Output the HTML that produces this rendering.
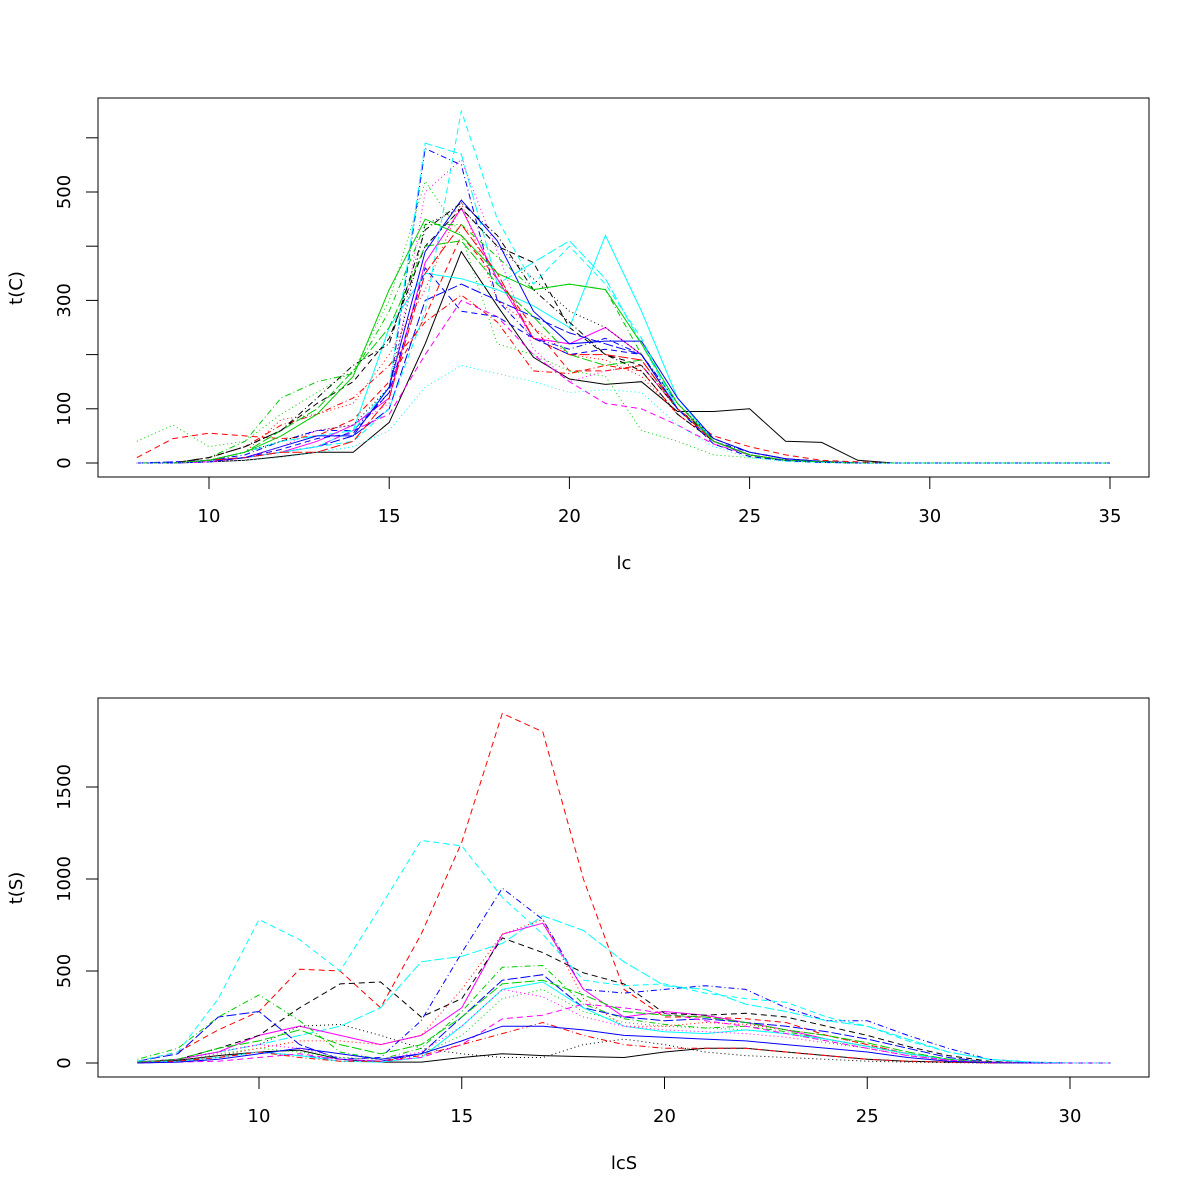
<!DOCTYPE html>
<html><head><meta charset="utf-8"><style>
body{margin:0;background:#fff;}
svg{display:block;font-family:"DejaVu Sans","Liberation Sans",sans-serif;}
</style></head><body>
<svg id="chart" width="1200" height="1200" viewBox="0 0 1200 1200"></svg>
<script>
// ---- Top panel data: x = 8..35 (values given for 8..29, rest zeros) ----
const topX = [8,9,10,11,12,13,14,15,16,17,18,19,20,21,22,23,24,25,26,27,28,29,30,31,32,33,34,35];
const topXTicks = [10,15,20,25,30,35];
const topYTicks = [0,100,200,300,400,500,600];
const topYLabels = ["0","100","","300","","500",""];
const topS1 = [0,0,2,5,12,20,20,75,220,390,290,195,155,145,150,95,95,100,40,38,5,0];
const topS2 = [10,45,55,50,45,50,80,150,270,420,340,250,170,170,180,100,50,30,15,5,2,0];
const topS3 = [40,70,30,40,90,130,170,300,520,420,220,200,170,160,60,40,15,10,5,2,0,0];
const topS4 = [0,0,5,15,40,60,60,130,580,550,300,230,210,230,200,110,40,20,8,3,0,0];
const topS5 = [0,0,5,20,40,50,60,140,590,570,330,370,410,340,220,100,40,15,5,2,0,0];
const topS6 = [0,0,2,10,20,40,70,120,370,470,340,230,220,250,200,100,40,15,5,2,0,0];
const topS7 = [0,0,10,30,60,110,150,230,400,470,400,370,250,200,180,100,45,20,8,3,0,0];
const topS8 = [0,0,5,20,80,90,110,200,320,480,300,250,200,190,160,90,40,15,5,2,0,0];
const topS9 = [0,0,10,40,120,150,165,280,440,440,380,320,330,320,200,100,40,15,5,2,0,0];
const topS10 = [0,2,5,10,20,30,50,100,300,330,300,270,240,220,200,100,40,15,5,2,0,0];
const topS11 = [0,0,5,10,20,30,60,250,350,340,320,290,250,420,280,120,40,15,5,2,0,0];
const topS12 = [0,0,5,10,20,30,60,90,200,300,270,200,150,110,100,70,35,15,5,2,0,0];
const topS13 = [0,0,5,20,40,60,70,140,440,470,400,340,280,250,200,110,45,20,8,3,0,0];
const topS14 = [0,0,10,30,70,90,120,180,260,310,260,170,165,180,170,90,40,15,5,2,0,0];
const topS15 = [0,0,5,20,60,100,170,250,400,410,330,270,200,180,190,100,40,15,5,2,0,0];
const topS16 = [0,0,5,10,30,50,50,140,390,485,410,280,220,225,225,120,45,20,8,3,0,0];
const topS17 = [0,0,5,10,20,30,40,100,280,650,450,330,400,330,230,100,40,15,5,2,0,0];
const topS18 = [0,0,2,10,30,60,70,110,500,560,390,210,150,170,180,100,40,15,5,2,0,0];
const topS19 = [0,0,10,30,60,120,180,220,430,480,420,320,260,200,170,90,40,15,5,2,0,0];
const topS20 = [0,0,5,10,20,20,40,120,350,440,350,230,200,200,190,100,40,15,5,2,0,0];
const topS21 = [0,0,5,20,50,90,160,320,450,420,350,320,330,320,220,110,40,15,5,2,0,0];
const topS22 = [0,0,2,10,25,45,55,130,360,280,270,230,200,210,200,100,35,12,4,1,0,0];
const topS23 = [0,0,2,5,10,20,30,60,140,180,165,150,130,135,130,70,30,10,3,1,0,0];
const topSeries = [topS1,topS2,topS3,topS4,topS5,topS6,topS7,topS8,topS9,topS10,topS11,topS12,topS13,topS14,topS15,topS16,topS17,topS18,topS19,topS20,topS21,topS22,topS23];

// ---- Bottom panel data: x = 7..31 ----
const botX = [7,8,9,10,11,12,13,14,15,16,17,18,19,20,21,22,23,24,25,26,27,28,29,30,31];
const botXTicks = [10,15,20,25,30];
const botYTicks = [0,500,1000,1500];
const botYLabels = ["0","500","1000","1500"];
const botS1 = [5,15,40,60,70,20,5,5,30,50,40,35,30,60,80,80,60,40,20,10,5,2,0,0,0];
const botS2 = [10,60,180,280,510,500,300,700,1200,1900,1800,1000,400,250,250,240,220,150,100,50,20,5,0,0,0];
const botS3 = [5,10,50,80,60,30,20,50,150,350,400,280,220,200,190,180,160,120,80,40,15,5,0,0,0];
const botS4 = [5,10,30,60,40,20,30,230,600,950,780,400,380,400,420,400,300,230,230,150,80,20,5,0,0];
const botS5 = [5,20,60,100,150,200,300,550,580,650,800,720,550,420,400,320,280,230,200,130,60,20,5,0,0];
const botS6 = [5,20,60,150,200,150,100,150,300,700,760,400,250,280,260,220,180,130,90,50,20,5,0,0,0];
const botS7 = [5,20,80,150,300,430,440,250,350,680,600,490,430,270,260,270,250,200,150,90,40,10,0,0,0];
const botS8 = [5,10,40,80,120,120,100,150,400,700,780,350,200,200,220,210,180,150,100,50,20,5,0,0,0];
const botS9 = [20,80,250,370,230,60,20,80,280,520,530,320,240,210,190,200,170,130,90,50,20,5,0,0,0];
const botS10 = [10,50,250,280,100,20,10,50,250,450,480,300,250,230,240,220,200,170,130,80,30,5,0,0,0];
const botS11 = [5,10,30,60,40,10,5,30,200,400,440,300,200,170,160,180,160,130,90,50,20,5,0,0,0];
const botS12 = [0,5,10,30,50,20,10,30,100,240,260,320,300,270,230,200,160,120,80,40,15,5,0,0,0];
const botS13 = [5,20,60,100,200,210,150,80,50,30,30,100,130,100,60,40,30,20,10,5,2,0,0,0,0];
const botS14 = [5,10,30,60,30,10,10,40,100,160,220,150,100,80,80,80,60,40,20,10,5,0,0,0,0];
const botS15 = [5,20,80,120,180,100,50,100,250,430,450,370,280,260,250,220,180,150,110,60,20,5,0,0,0];
const botS16 = [0,5,20,50,80,50,20,50,120,200,200,180,150,140,130,120,100,80,60,30,10,2,0,0,0];
const botS17 = [10,60,350,780,670,500,850,1210,1180,900,700,450,420,430,380,350,330,250,200,120,60,20,5,0,0];
const botS18 = [5,20,60,100,80,30,20,60,200,400,360,250,200,180,170,160,140,110,80,40,15,5,0,0,0];
const botSeries = [botS1,botS2,botS3,botS4,botS5,botS6,botS7,botS8,botS9,botS10,botS11,botS12,botS13,botS14,botS15,botS16,botS17,botS18];

const colors = ["#000000","#FF0000","#00CD00","#0000FF","#00FFFF","#FF00FF"];
const dashes = ["none","6,4","1,3","1,3,6,3","10,3"];
const NS = "http://www.w3.org/2000/svg";
const svg = document.getElementById("chart");

function el(tag, attrs, parent){
  const e = document.createElementNS(NS, tag);
  for (const k in attrs) e.setAttribute(k, attrs[k]);
  (parent||svg).appendChild(e);
  return e;
}

function panel(cfg){
  const g = el("g", {});
  
  
  const sx = v => cfg.x0px + (v - cfg.x0v) * cfg.xs;
  const sy = v => cfg.y0px - v * cfg.ys;
  const box = el("rect", {x:98, y:cfg.top, width:1051, height:379, fill:"none", stroke:"#000", "stroke-width":1}, g);
  
  
  cfg.series.forEach((s, i) => {
    const pts = cfg.xs_vals.map((x, j) => sx(x).toFixed(1) + "," + sy(j < s.length ? s[j] : 0).toFixed(1)).join(" ");
    const pl = el("polyline", {points:pts, fill:"none", stroke:colors[i%6], "stroke-width":1, "stroke-dasharray":dashes[i%5]}, g);
    
    
  });
  const xa = el("g", {}, g);
  
  
  const xb = cfg.top + 379;
  el("line", {x1:sx(cfg.xTicks[0]), x2:sx(cfg.xTicks[cfg.xTicks.length-1]), y1:xb, y2:xb, stroke:"#000"}, xa);
  cfg.xTicks.forEach(t => {
    el("line", {x1:sx(t), x2:sx(t), y1:xb, y2:xb+12, stroke:"#000"}, xa);
    const tx = el("text", {x:sx(t), y:xb+45, "font-size":18, "text-anchor":"middle"}, xa);
    tx.textContent = t;
    
    
  });
  const ya = el("g", {}, g);
  
  
  el("line", {x1:98, x2:98, y1:sy(cfg.yTicks[0]), y2:sy(cfg.yTicks[cfg.yTicks.length-1]), stroke:"#000"}, ya);
  cfg.yTicks.forEach((t, k) => {
    el("line", {x1:86, x2:98, y1:sy(t), y2:sy(t), stroke:"#000"}, ya);
    if (cfg.yLabels[k]) {
      const tx = el("text", {x:0, y:0, "font-size":18, "text-anchor":"middle", transform:"translate(70," + sy(t) + ") rotate(-90)"}, ya);
      tx.textContent = cfg.yLabels[k];
      
      
    }
  });
  const xt = el("text", {x:624, y:xb+92, "font-size":18, "text-anchor":"middle"}, g);
  xt.textContent = cfg.xTitle;
  
  
  const yt = el("text", {x:0, y:0, "font-size":18, "text-anchor":"middle", transform:"translate(22," + (cfg.top+190) + ") rotate(-90)"}, g);
  yt.textContent = cfg.yTitle;
  
  
}

panel({name:"top-panel", top:98, x0v:10, x0px:209, xs:36.04, y0px:463, ys:0.542,
  xs_vals:topX, series:topSeries, xTicks:topXTicks, yTicks:topYTicks, yLabels:topYLabels, xTitle:"lc", yTitle:"t(C)"});
panel({name:"bottom-panel", top:698, x0v:10, x0px:259, xs:40.55, y0px:1063, ys:0.184,
  xs_vals:botX, series:botSeries, xTicks:botXTicks, yTicks:botYTicks, yLabels:botYLabels, xTitle:"lcS", yTitle:"t(S)"});
</script>
</body></html>
